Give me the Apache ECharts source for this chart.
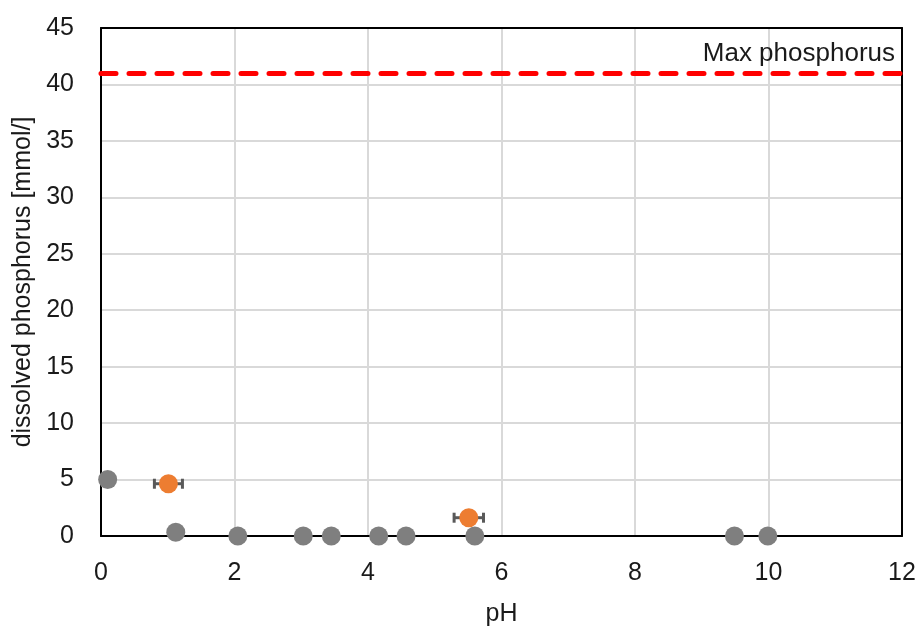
<!DOCTYPE html>
<html><head><meta charset="utf-8">
<script src="https://cdn.jsdelivr.net/npm/echarts@6/dist/echarts.min.js"></script>
<style>html,body{margin:0;padding:0;background:#fff}#c{width:919px;height:627px}</style>
</head><body><div id="c"></div>
<script>
const grayPH = [0.1, 1.12, 2.05, 3.03, 3.45, 4.16, 4.57, 5.6, 9.49, 9.99];
const grayP  = [5.0, 0.33, 0.0, 0.0, 0.0, 0.0, 0.0, 0.0, 0.0, 0.0];
const orangePH = [1.01, 5.51];
const orangeP  = [4.63, 1.62];
const orangeErr = [0.21, 0.22];
const maxP = 41;
const maxLabel = 'Max phosphorus';
const xTicks = [0, 2, 4, 6, 8, 10, 12];
const yTicks = [0, 5, 10, 15, 20, 25, 30, 35, 40, 45];

const font = '"Liberation Sans", Arial, sans-serif';
const txt = '#1a1a1a';
const xMin = xTicks[0], xMax = xTicks[xTicks.length-1];
const yMin = yTicks[0], yMax = yTicks[yTicks.length-1];
const frameAxis = {show: true, onZero: false, lineStyle: {color: '#000', width: 2}};
const chart = echarts.init(document.getElementById('c'));
chart.setOption({
  animation: false,
  grid: {left: 101, right: 17, top: 28, bottom: 91, outerBoundsMode: 'none', containLabel: false},
  xAxis: [{
    type: 'value', min: xMin, max: xMax, interval: 2,
    name: 'pH', nameLocation: 'middle', nameGap: 66,
    nameTextStyle: {fontFamily: font, fontSize: 25, color: txt},
    axisLine: frameAxis,
    axisTick: {show: false},
    axisLabel: {fontFamily: font, fontSize: 25, color: txt, margin: 25},
    splitLine: {show: true, lineStyle: {color: '#d9d9d9', width: 2}}
  }, {
    type: 'value', position: 'top', min: xMin, max: xMax, interval: 2,
    axisLine: frameAxis, axisTick: {show: false}, axisLabel: {show: false}, splitLine: {show: false}
  }],
  yAxis: [{
    type: 'value', min: yMin, max: yMax, interval: 5,
    name: 'dissolved phosphorus [mmol/]', nameLocation: 'middle', nameGap: 64,
    nameTextStyle: {fontFamily: font, fontSize: 25, color: txt},
    axisLine: frameAxis,
    axisTick: {show: false},
    axisLabel: {fontFamily: font, fontSize: 25, color: txt, margin: 27},
    splitLine: {show: true, lineStyle: {color: '#d9d9d9', width: 2}}
  }, {
    type: 'value', position: 'right', min: yMin, max: yMax, interval: 5,
    axisLine: frameAxis, axisTick: {show: false}, axisLabel: {show: false}, splitLine: {show: false}
  }],
  series: [
    {
      type: 'scatter', symbolSize: 19, z: 4,
      itemStyle: {color: '#7f7f7f', opacity: 1},
      data: grayPH.map((x, i) => [x, grayP[i]]),
      markLine: {
        silent: true, symbol: ['none', 'none'], animation: false,
        data: [{yAxis: maxP}],
        lineStyle: {color: '#ff0000', width: 5, type: [15, 13], cap: 'round'},
        label: {show: true, formatter: maxLabel, position: 'insideEndTop', distance: [7, 6],
          fontFamily: font, fontSize: 26, color: txt}
      }
    },
    {
      type: 'custom', z: 5,
      data: orangePH.map((x, i) => [x, orangeP[i], orangeErr[i]]),
      renderItem: function (params, api) {
        const x = api.value(0), y = api.value(1), e = api.value(2);
        const l = api.coord([x - e, y]), r = api.coord([x + e, y]);
        const st = {stroke: '#595959', lineWidth: 3};
        return {type: 'group', children: [
          {type: 'line', shape: {x1: l[0], y1: l[1], x2: r[0], y2: r[1]}, style: st},
          {type: 'line', shape: {x1: l[0], y1: l[1]-5, x2: l[0], y2: l[1]+5}, style: st},
          {type: 'line', shape: {x1: r[0], y1: r[1]-5, x2: r[0], y2: r[1]+5}, style: st}
        ]};
      }
    },
    {
      type: 'scatter', symbolSize: 19, z: 6,
      itemStyle: {color: '#ed7d31', opacity: 1},
      data: orangePH.map((x, i) => [x, orangeP[i]])
    }
  ]
});
</script></body></html>
